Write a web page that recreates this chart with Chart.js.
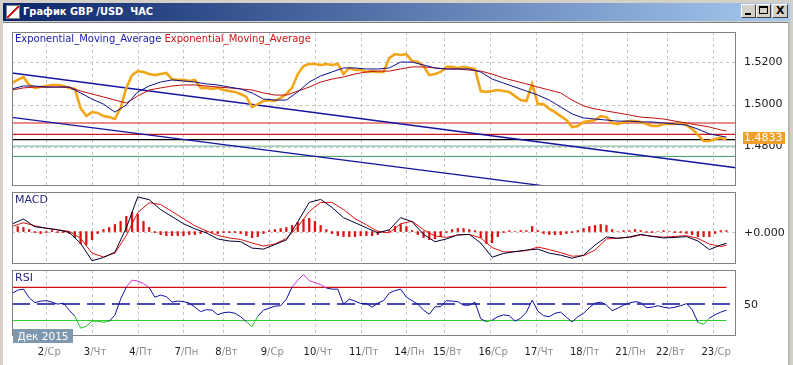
<!DOCTYPE html>
<html>
<head>
<meta charset="utf-8">
<script src="https://cdn.jsdelivr.net/npm/chart.js@4.4.1/dist/chart.umd.min.js"></script>
<style>
html, body { margin: 0; padding: 0; }
body { width: 793px; height: 365px; position: relative; overflow: hidden; background: #d4d0c8; font-family: "DejaVu Sans", Verdana, sans-serif; }
#title { position: absolute; left: 3px; top: 3px; width: 787px; height: 18px; background: linear-gradient(to right, #0a246a, #a6caf0); }
#title .txt { position: absolute; left: 20px; top: 2px; color: #fff; font: bold 11px "DejaVu Sans Condensed", "DejaVu Sans", sans-serif; white-space: pre; }
#icon { position: absolute; left: 3px; top: 2px; width: 12px; height: 12px; background: #fff; border: 1px solid #808080;
  background-image: linear-gradient(135deg, transparent 45%, #d02020 45%, #d02020 58%, transparent 58%); }
.btn { position: absolute; top: 4px; height: 14px; background: #d4d0c8; box-sizing: border-box;
  border-top: 1px solid #fff; border-left: 1px solid #fff; border-right: 1px solid #404040; border-bottom: 1px solid #404040; }
#content { position: absolute; left: 3px; top: 22px; width: 785px; height: 343px; background: #fff; border-top: 1px solid #808080; }
#rline { position: absolute; left: 788px; top: 22px; width: 2px; height: 343px; background: #b8b8b8; }
.cv { position: absolute; line-height: 0; }
.lbl { position: absolute; white-space: pre; }
</style>
</head>
<body>
<div id="title"><div id="icon"></div><div class="txt">График GBP /USD  ЧАС</div></div>
<div class="btn" style="left:741px;width:15px;"><div style="position:absolute;left:3px;top:8px;width:6px;height:2px;background:#000;"></div></div>
<div class="btn" style="left:756px;width:15px;"><div style="position:absolute;left:2px;top:1px;width:9px;height:8px;box-sizing:border-box;border:1px solid #000;border-top-width:2px;"></div></div>
<div class="btn" style="left:772px;width:16px;"><div style="position:absolute;left:3px;top:-1px;font:bold 11px 'DejaVu Sans';color:#000;">X</div></div>
<div id="content"></div>
<div id="rline"></div>

<div class="cv" style="left:12px;top:32px;"><canvas id="priceChart" width="778" height="154"></canvas></div>
<div class="cv" style="left:12px;top:192px;"><canvas id="macdChart" width="778" height="72"></canvas></div>
<div class="cv" style="left:12px;top:270px;"><canvas id="rsiChart" width="778" height="95"></canvas></div>

<div class="lbl" style="left:15px;top:33px;font-size:10px;"><span style="color:#1a1ab4;">Exponential_Moving_Average</span> <span style="color:#d41414;">Exponential_Moving_Average</span></div>
<div class="lbl" style="left:15px;top:193px;font-size:11px;color:#2a2a80;">MACD</div>
<div class="lbl" style="left:15px;top:271px;font-size:11px;color:#2a2a80;">RSI</div>
<div class="lbl" style="left:13px;top:329px;width:60px;height:14px;background:#7e98b0;color:#fff;font-size:10.5px;line-height:14px;text-align:center;">Дек 2015</div>

<script>
// hour index of each day start (hourly bars, Monday sessions are shorter)
var dayStarts = [18, 42, 66, 90, 111, 135, 159, 183, 207, 227, 251, 275, 299, 323, 344, 368];
var dayNames = ['2/Ср', '3/Чт', '4/Пт', '7/Пн', '8/Вт', '9/Ср', '10/Чт', '11/Пт', '14/Пн', '15/Вт', '16/Ср', '17/Чт', '18/Пт', '21/Пн', '22/Вт', '23/Ср'];

// GBP/USD close, every 3 hours from Dec 1
var price = [
  1.5102, 1.5117, 1.5131, 1.5093, 1.5079, 1.5083, 1.5088, 1.5093, 1.5093, 1.5088,
  1.5079, 1.5074, 1.4983, 1.4945, 1.4964, 1.4960, 1.4945, 1.4940, 1.4931, 1.4983,
  1.5079, 1.5140, 1.5159, 1.5155, 1.5145, 1.5140, 1.5145, 1.5150, 1.5121, 1.5117,
  1.5117, 1.5112, 1.5117, 1.5079, 1.5079, 1.5074, 1.5079, 1.5069, 1.5064, 1.5060,
  1.5050, 1.5036, 1.4988, 1.5002, 1.5017, 1.5021, 1.5017, 1.5031, 1.5050, 1.5079,
  1.5145, 1.5183, 1.5193, 1.5193, 1.5188, 1.5193, 1.5188, 1.5193, 1.5145, 1.5174,
  1.5164, 1.5164, 1.5155, 1.5159, 1.5155, 1.5155, 1.5221, 1.5240, 1.5236, 1.5240,
  1.5207, 1.5202, 1.5183, 1.5140, 1.5145, 1.5155, 1.5179, 1.5179, 1.5174, 1.5179,
  1.5174, 1.5169, 1.5064, 1.5060, 1.5064, 1.5069, 1.5064, 1.5060, 1.5040, 1.5021,
  1.5017, 1.5098, 1.5002, 1.5002, 1.4979, 1.4964, 1.4945, 1.4926, 1.4893, 1.4898,
  1.4917, 1.4921, 1.4926, 1.4945, 1.4940, 1.4912, 1.4907, 1.4917, 1.4921, 1.4921,
  1.4917, 1.4907, 1.4898, 1.4898, 1.4907, 1.4907, 1.4907, 1.4912, 1.4902, 1.4883,
  1.4855, 1.4826, 1.4826, 1.4836, 1.4841, 1.4833
];

// moving averages, every 6 hours
var emaFast = [
  1.5074, 1.5088, 1.5088, 1.5083, 1.5083, 1.5083, 1.5055, 1.5026, 1.5002, 1.4964,
  1.4998, 1.5060, 1.5088, 1.5107, 1.5117, 1.5112, 1.5107, 1.5098, 1.5093, 1.5083,
  1.5074, 1.5055, 1.5026, 1.5021, 1.5021, 1.5060, 1.5107, 1.5136, 1.5155, 1.5174,
  1.5174, 1.5169, 1.5169, 1.5174, 1.5202, 1.5202, 1.5188, 1.5174, 1.5169, 1.5169,
  1.5169, 1.5155, 1.5121, 1.5102, 1.5083, 1.5064, 1.5045, 1.5021, 1.4988, 1.4955,
  1.4936, 1.4931, 1.4926, 1.4921, 1.4921, 1.4917, 1.4917, 1.4912, 1.4907, 1.4902,
  1.4883, 1.4860, 1.4850, 1.4845
];
var emaSlow = [
  1.5069, 1.5079, 1.5083, 1.5083, 1.5083, 1.5083, 1.5064, 1.5050, 1.5036, 1.5021,
  1.5007, 1.5040, 1.5069, 1.5079, 1.5088, 1.5093, 1.5093, 1.5088, 1.5083, 1.5079,
  1.5074, 1.5069, 1.5055, 1.5045, 1.5045, 1.5064, 1.5083, 1.5107, 1.5121, 1.5131,
  1.5145, 1.5155, 1.5159, 1.5159, 1.5169, 1.5179, 1.5179, 1.5174, 1.5169, 1.5169,
  1.5164, 1.5159, 1.5145, 1.5126, 1.5112, 1.5098, 1.5083, 1.5069, 1.5055, 1.5021,
  1.4993, 1.4979, 1.4969, 1.4960, 1.4950, 1.4940, 1.4936, 1.4931, 1.4921, 1.4912,
  1.4902, 1.4893, 1.4879, 1.4874
];

// horizontal levels and trend lines drawn on the price panel
var redLevels = [1.4912, 1.4858];
var greenLevels = [1.4802, 1.4753];
var lastPrice = 1.4833;
var trendUpper = [1.5150, 1.4699];
var trendLower = [1.4939, 1.4495];
var priceTicks = [1.48, 1.50, 1.52];

// MACD main and signal every 6 hours, histogram every 3 hours
var macdMain = [
  0.00074, 0.00124, 0.00047, 0.00034, 0.00017, -0.00008, -0.00116, -0.00288, -0.00256, -0.00203,
  0.00037, 0.00342, 0.00314, 0.00217, 0.00147, 0.00077, 0.00027, -0.00013, -0.00073, -0.00093,
  -0.00100, -0.00163, -0.00173, -0.00128, -0.00083, 0.00097, 0.00287, 0.00317, 0.00237, 0.00137,
  0.00087, 0.00037, -0.00013, 0.00017, 0.00137, 0.00097, -0.00028, -0.00100, -0.00073, -0.00033,
  -0.00028, -0.00113, -0.00253, -0.00216, -0.00198, -0.00183, -0.00173, -0.00213, -0.00233, -0.00263,
  -0.00233, -0.00133, -0.00053, -0.00066, -0.00053, -0.00028, -0.00048, -0.00063, -0.00058, -0.00050,
  -0.00093, -0.00178, -0.00133, -0.00116
];
var macdSignal = [
  0.00050, 0.00087, 0.00057, 0.00032, 0.00017, 0.00002, -0.00066, -0.00213, -0.00250, -0.00213,
  -0.00038, 0.00187, 0.00284, 0.00267, 0.00197, 0.00127, 0.00057, 0.00007, -0.00038, -0.00063,
  -0.00078, -0.00113, -0.00143, -0.00123, -0.00068, 0.00047, 0.00197, 0.00287, 0.00287, 0.00217,
  0.00127, 0.00067, 0.00002, -0.00013, 0.00077, 0.00102, 0.00017, -0.00043, -0.00058, -0.00033,
  -0.00028, -0.00063, -0.00158, -0.00200, -0.00198, -0.00188, -0.00153, -0.00178, -0.00208, -0.00243,
  -0.00238, -0.00183, -0.00073, -0.00066, -0.00058, -0.00033, -0.00046, -0.00056, -0.00048, -0.00040,
  -0.00068, -0.00123, -0.00148, -0.00133
];
var macdHist = [
  0.0004, 0.0005, 0.0004, 0.0002, -0.0001, -0.0002, -0.0001, 0.0001, -0.0001, -0.0001,
  -0.0002, -0.0006, -0.0012, -0.0013, -0.0008, -0.0002, 0.0002, 0.0004, 0.0007, 0.0010,
  0.0015, 0.0019, 0.0017, 0.0010, 0.0004, -0.0001, -0.0003, -0.0004, -0.0004, -0.0004,
  -0.0004, -0.0003, -0.0003, -0.0002, -0.0001, -0.0001, -0.0002, -0.0001, -0.0001, -0.0001,
  -0.0002, -0.0004, -0.0006, -0.0005, -0.0002, 0.0001, 0.0002, 0.0003, 0.0004, 0.0006,
  0.0009, 0.0012, 0.0013, 0.0010, 0.0006, 0.0002, -0.0002, -0.0004, -0.0005, -0.0005,
  -0.0005, -0.0004, -0.0004, -0.0004, -0.0003, -0.0001, 0.0001, 0.0005, 0.0007, 0.0005,
  0.0001, -0.0003, -0.0006, -0.0008, -0.0007, -0.0005, -0.0001, 0.0002, 0.0003, 0.0003,
  0.0002, 0.0001, -0.0006, -0.0012, -0.0011, -0.0005, -0.0001, 0.0001, 0.0000, 0.0001,
  0.0001, 0.0005, 0.0001, -0.0002, -0.0003, -0.0003, -0.0003, -0.0002, -0.0001, 0.0001,
  0.0003, 0.0005, 0.0006, 0.0007, 0.0006, 0.0002, 0.0000, 0.0001, 0.0001, 0.0002,
  0.0001, -0.0001, -0.0001, 0.0000, 0.0001, 0.0000, -0.0001, -0.0001, -0.0002, -0.0003,
  -0.0005, -0.0005, -0.0005, -0.0002, 0.0001, 0.0001
];

// RSI every 3 hours
var rsi = [
  62.7, 66.7, 67.9, 57.6, 51.6, 53.4, 54.0, 52.2, 49.8, 51.0,
  42.5, 35.2, 20.7, 23.1, 29.2, 29.2, 27.9, 29.2, 36.4, 55.8,
  70.4, 78.8, 77.6, 74.6, 69.8, 58.2, 60.7, 58.8, 52.2, 53.4,
  52.8, 51.0, 46.1, 40.7, 43.1, 42.5, 37.0, 39.5, 40.1, 38.8,
  34.6, 28.5, 22.5, 35.2, 42.5, 44.9, 47.3, 47.9, 55.8, 70.4,
  78.8, 85.5, 78.2, 75.8, 73.4, 69.2, 67.9, 67.9, 49.8, 55.8,
  53.4, 50.6, 50.6, 46.1, 51.0, 54.0, 63.1, 66.1, 67.9, 58.2,
  54.0, 49.8, 42.5, 37.6, 46.5, 46.7, 54.0, 53.4, 52.8, 48.5,
  48.5, 52.2, 32.2, 28.5, 30.4, 34.6, 36.8, 35.8, 29.2, 32.8,
  40.1, 54.6, 41.3, 35.8, 34.6, 38.8, 40.1, 34.0, 28.3, 34.6,
  38.8, 45.5, 51.0, 52.2, 48.5, 41.9, 44.9, 48.5, 51.0, 52.8,
  51.6, 45.5, 46.1, 47.9, 46.1, 44.9, 46.1, 47.9, 50.4, 43.1,
  27.9, 25.5, 32.8, 37.0, 40.1, 42.5
];
var rsiLevels = [70, 50, 30];

var lastHour = 375;
var xMax = 380;

function pts3(arr) { return arr.map(function(v, k) { return {x: k * 3, y: v}; }); }
function pts6(arr) { return arr.map(function(v, k) { return {x: k === arr.length - 1 ? lastHour : k * 6, y: v}; }); }
function flat(v, x1) { return [{x: 0, y: v}, {x: x1, y: v}]; }

var FONT = '"DejaVu Sans", Verdana, sans-serif';

var panelGrid = {
  id: 'panelGrid',
  beforeDatasetsDraw: function(chart, args, opts) {
    var ctx = chart.ctx, a = chart.chartArea, x = chart.scales.x, y = chart.scales.y;
    ctx.save();
    ctx.strokeStyle = '#c6c6c6';
    ctx.lineWidth = 1;
    ctx.setLineDash([3, 3]);
    ctx.beginPath();
    dayStarts.forEach(function(h) {
      var px = Math.round(x.getPixelForValue(h)) + 0.5;
      ctx.moveTo(px, a.top); ctx.lineTo(px, a.bottom);
    });
    (opts.levels || []).forEach(function(v) {
      var py = Math.round(y.getPixelForValue(v)) + 0.5;
      ctx.moveTo(a.left, py); ctx.lineTo(a.right, py);
    });
    ctx.stroke();
    ctx.restore();
  },
  afterDatasetsDraw: function(chart) {
    var ctx = chart.ctx, a = chart.chartArea;
    ctx.save();
    ctx.strokeStyle = '#808080';
    ctx.lineWidth = 1;
    ctx.strokeRect(a.left + 0.5, a.top + 0.5, a.right - a.left - 1, a.bottom - a.top - 1);
    ctx.restore();
  }
};

var priceTag = {
  id: 'priceTag',
  afterDraw: function(chart) {
    var ctx = chart.ctx, a = chart.chartArea, y = chart.scales.y;
    var py = Math.round(y.getPixelForValue(lastPrice));
    ctx.save();
    ctx.fillStyle = '#f0a028';
    ctx.fillRect(a.right + 7, py - 8, 42, 12);
    ctx.fillStyle = '#ffffff';
    ctx.font = '11px ' + FONT;
    ctx.textBaseline = 'middle';
    ctx.fillText(lastPrice.toFixed(4), a.right + 8, py - 2);
    ctx.restore();
  }
};

var dayLabels = {
  id: 'dayLabels',
  afterDraw: function(chart) {
    var ctx = chart.ctx, x = chart.scales.x;
    ctx.save();
    ctx.font = '10px ' + FONT;
    ctx.textBaseline = 'middle';
    dayStarts.forEach(function(h, k) {
      var parts = dayNames[k].split('/');
      var a = parts[0], b = '/' + parts[1];
      var wa = ctx.measureText(a).width, wb = ctx.measureText(b).width;
      var px = x.getPixelForValue(h) + 3 - (wa + wb) / 2;
      ctx.fillStyle = '#202020';
      ctx.fillText(a, px, 82);
      ctx.fillStyle = '#8c8c8c';
      ctx.fillText(b, px + wa, 82);
    });
    ctx.restore();
  }
};

function xScale() {
  return {type: 'linear', min: 0, max: xMax, display: false, offset: false};
}
function yScale(min, max, ticks, fmt, offset) {
  return {
    position: 'right', min: min, max: max,
    grid: {display: false, drawTicks: false},
    border: {display: false},
    afterBuildTicks: function(s) { s.ticks = ticks.map(function(v) { return {value: v}; }); },
    afterFit: function(s) { s.width = 54; s.paddingTop = 0; s.paddingBottom = 0; },
    ticks: {
      padding: 8, labelOffset: offset, color: '#202020',
      font: {family: FONT, size: 11},
      callback: fmt
    }
  };
}
function baseOptions(pad) {
  return {
    responsive: false,
    animation: false,
    events: [],
    layout: {padding: pad || 0, autoPadding: false},
    elements: {point: {radius: 0}, line: {tension: 0}},
    plugins: {legend: {display: false}, tooltip: {enabled: false}}
  };
}
function lineSet(data, color, width, extra) {
  var d = {type: 'line', data: data, borderColor: color, borderWidth: width, pointRadius: 0, fill: false};
  for (var k in extra || {}) d[k] = extra[k];
  return d;
}

// price panel
var priceOpts = baseOptions(0);
priceOpts.scales = {
  x: xScale(),
  y: yScale(1.46121, 1.53451, priceTicks, function(v) { return v.toFixed(4); }, 0)
};
priceOpts.plugins.panelGrid = {levels: priceTicks};
new Chart(document.getElementById('priceChart'), {
  type: 'line',
  data: {
    datasets: [
      lineSet(pts6(emaFast), '#10108c', 1),
      lineSet(pts6(emaSlow), '#c01010', 1),
      lineSet(pts3(price), '#f2a516', 2.6),
      lineSet([{x: 0, y: trendUpper[0]}, {x: xMax, y: trendUpper[1]}], '#1414a0', 1.3),
      lineSet([{x: 0, y: trendLower[0]}, {x: xMax, y: trendLower[1]}], '#1414a0', 1.3),
      lineSet(flat(lastPrice, xMax), '#000000', 1.3),
      lineSet(flat(redLevels[0], xMax), '#d01818', 1.2),
      lineSet(flat(redLevels[1], xMax), '#d01818', 1.2),
      lineSet(flat(greenLevels[0], xMax), '#6aae88', 1),
      lineSet(flat(greenLevels[1], xMax), '#3c9a68', 1)
    ]
  },
  options: priceOpts,
  plugins: [panelGrid, priceTag]
});

// MACD panel
var macdOpts = baseOptions(0);
macdOpts.scales = {
  x: xScale(),
  y: yScale(-0.0032, 0.0039, [0], function() { return '+0.000'; }, 2)
};
macdOpts.plugins.panelGrid = {levels: [0]};
new Chart(document.getElementById('macdChart'), {
  type: 'line',
  data: {
    datasets: [
      lineSet(pts6(macdMain), '#000030', 1),
      lineSet(pts6(macdSignal), '#e01010', 1),
      {type: 'bar', data: pts3(macdHist), backgroundColor: '#e01010', barThickness: 1.6, borderWidth: 0}
    ]
  },
  options: macdOpts,
  plugins: [panelGrid]
});

// RSI panel
var rsiOpts = baseOptions({top: 0, bottom: 29, left: 0, right: 0});
rsiOpts.scales = {
  x: xScale(),
  y: yScale(11.3, 91, [50], function(v) { return String(v); }, 1)
};
rsiOpts.plugins.panelGrid = {levels: []};
new Chart(document.getElementById('rsiChart'), {
  type: 'line',
  data: {
    datasets: [
      lineSet(pts3(rsi), '#1010a0', 1, {
        segment: {
          borderColor: function(c) {
            var m = (c.p0.parsed.y + c.p1.parsed.y) / 2;
            if (m > rsiLevels[0]) return '#d030d0';
            if (m < rsiLevels[2]) return '#20c020';
            return '#1010a0';
          }
        }
      }),
      lineSet(flat(rsiLevels[0], lastHour), '#cc1010', 1.2),
      lineSet(flat(rsiLevels[1], 378), '#1010a0', 1.5, {borderDash: [18, 7]}),
      lineSet(flat(rsiLevels[2], lastHour), '#30d030', 1.2)
    ]
  },
  options: rsiOpts,
  plugins: [panelGrid, dayLabels]
});
</script>
</body>
</html>
